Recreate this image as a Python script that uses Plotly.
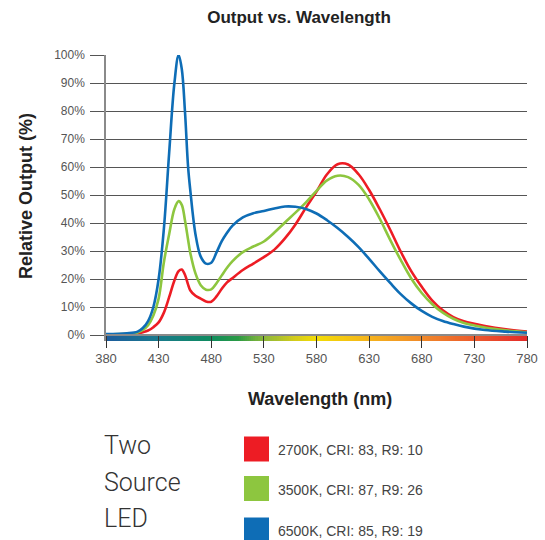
import plotly.graph_objects as go

# ---------------- data ----------------
wavelength = [380, 400, 410, 415, 420, 425, 430, 435, 440, 445, 449, 452, 455, 458, 460,
              465, 470, 475, 480, 485, 490, 495, 500, 510, 520, 530, 540, 550, 560, 570,
              580, 590, 600, 610, 620, 630, 640, 650, 660, 670, 680, 690, 700, 710,
              720, 740, 760, 780]

out_2700K = [0.2, 0.3, 0.6, 1.0, 1.6, 2.8, 4.5, 8.0, 13.5, 19.5, 22.8, 23.4, 21.5, 18.0, 16.0,
             14.0, 13.0, 12.0, 11.9, 13.8, 16.5, 18.8, 20.3, 23.2, 25.5, 27.8, 30.5, 34.5, 39.5, 45.5,
             51.2, 57.4, 61.0, 60.9, 57.4, 51.8, 45.0, 37.6, 29.8, 22.8, 17.2, 12.3, 8.8, 6.4,
             4.9, 3.2, 2.0, 1.2]

out_3500K = [0.2, 0.4, 0.9, 1.8, 3.5, 7.0, 13.0, 26.0, 36.0, 45.0, 47.8, 46.5, 41.0, 34.0, 29.5,
             22.0, 17.8, 16.2, 16.3, 18.5, 21.3, 24.0, 26.3, 29.6, 31.6, 33.4, 36.6, 40.2, 43.7, 47.4,
             51.5, 55.2, 56.9, 56.4, 53.6, 48.4, 41.6, 34.0, 26.8, 20.2, 15.0, 11.0, 8.0, 5.8,
             4.3, 2.7, 1.7, 1.0]

out_6500K = [0.3, 0.6, 1.2, 2.5, 5.0, 10.0, 20.0, 38.0, 65.0, 90.0, 100.0, 95.0, 80.0, 60.0, 52.0,
             36.0, 28.0, 25.5, 25.8, 29.5, 33.5, 36.5, 39.0, 42.0, 43.5, 44.3, 45.2, 45.9, 45.8, 45.0,
             43.4, 41.0, 38.2, 35.0, 31.4, 27.2, 22.8, 18.6, 14.6, 11.3, 8.6, 6.5, 5.0, 3.9,
             3.0, 1.8, 1.2, 0.8]

series_names = ["2700K, CRI: 83, R9: 10", "3500K, CRI: 87, R9: 26", "6500K, CRI: 85, R9: 19"]
series_colors = ["#ED1C24", "#8DC63F", "#0E6DB6"]

x_ticks = [380, 430, 480, 530, 580, 630, 680, 730, 780]
y_ticks = [0, 10, 20, 30, 40, 50, 60, 70, 80, 90, 100]
y_ticklabels = [f"{v}%" for v in y_ticks]

# spectrum strip colours (wavelength, colour)
spectrum_stops = [(380, "#1d5c9e"), (430, "#197a8c"), (480, "#0f8c5e"), (505, "#2a9a45"),
                  (530, "#8cb83a"), (560, "#d4cc1a"), (580, "#f2dc05"), (630, "#f5b31c"),
                  (680, "#f08a2a"), (730, "#ec5a2c"), (780, "#e42a2a")]

# ---------------- geometry ----------------
W, H = 545, 540
ML, MR, MT, MB = 106, 18, 55, 199
PW, PH = W - ML - MR, H - MT - MB
Y_BOTTOM = -2.14


def px_x(px):
    return (px - ML) / PW


def px_y(py):
    return (H - MB - py) / PH


FONT = "Liberation Sans, Arial, sans-serif"

fig = go.Figure()

# spectrum strip under the zero line
edges = list(range(380, 781, 2))
mids = [(a + b) / 2 for a, b in zip(edges[:-1], edges[1:])]
cscale = [[(w - 380) / 400, c] for w, c in spectrum_stops]
fig.add_trace(go.Heatmap(x=edges, y=[Y_BOTTOM, 0], z=[mids], zmin=380, zmax=780,
                         colorscale=cscale, showscale=False, hoverinfo="skip"))

for vals, name, col in zip([out_2700K, out_3500K, out_6500K], series_names, series_colors):
    fig.add_trace(go.Scatter(x=wavelength, y=vals, mode="lines", name=name,
                             line=dict(color=col, width=2.6, shape="spline", smoothing=1.0),
                             showlegend=False))

# ---------------- layout ----------------
fig.update_layout(
    width=W, height=H,
    margin=dict(l=ML, r=MR, t=MT, b=MB, autoexpand=False),
    paper_bgcolor="white", plot_bgcolor="white",
    font=dict(family=FONT, color="#555"),
    title=dict(text="<b>Output vs. Wavelength</b>", x=299 / W, xref="container", xanchor="center",
               y=1 - 17 / H, yref="container", yanchor="middle",
               font=dict(size=17, color="#222", family=FONT)),
    xaxis=dict(range=[380, 780], tickvals=x_ticks, ticktext=[str(t) for t in x_ticks],
               showgrid=False, zeroline=False, anchor="free", position=(0 - Y_BOTTOM) / (100 - Y_BOTTOM),
               automargin=False,
               showline=True, linecolor="#8a8a8a", linewidth=1.5,
               ticks="outside", ticklen=12, tickwidth=1.3, tickcolor="#333",
               tickfont=dict(size=13, color="#555")),
    yaxis=dict(range=[Y_BOTTOM, 100], tickvals=y_ticks, ticktext=y_ticklabels,
               showgrid=True, gridcolor="#555", gridwidth=1, zeroline=False, automargin=False,
               showline=True, linecolor="#8a8a8a", linewidth=1.5,
               ticks="outside", ticklen=14, tickwidth=1, tickcolor="#555",
               ticklabelstandoff=3,
               tickfont=dict(size=12, color="#555")),
)

annotations = [
    dict(text="<b>Relative Output (%)</b>", x=px_x(26), y=px_y(196), xref="paper", yref="paper",
         textangle=-90, showarrow=False, font=dict(size=18, color="#222", family=FONT),
         xanchor="center", yanchor="middle"),
    dict(text="<b>Wavelength (nm)</b>", x=px_x(320), y=px_y(399), xref="paper", yref="paper",
         showarrow=False, font=dict(size=18, color="#222", family=FONT),
         xanchor="center", yanchor="middle"),
]

for word, cy in zip(["Two", "Source", "LED"], [445, 482, 518]):
    annotations.append(dict(text=word, x=px_x(102), y=px_y(cy), xref="paper", yref="paper",
                            showarrow=False, xanchor="left", yanchor="middle",
                            font=dict(size=25, color="#333", family="Roboto, sans-serif", weight=300)))

shapes = []
legend_rows = [449, 488.5, 530]
for name, col, cy in zip(series_names, series_colors, legend_rows):
    shapes.append(dict(type="rect", xref="paper", yref="paper",
                       x0=px_x(244), x1=px_x(269), y0=px_y(cy - 12.5), y1=px_y(cy + 12.5),
                       fillcolor=col, line=dict(width=0)))
    annotations.append(dict(text=name, x=px_x(276), y=px_y(cy + 1), xref="paper", yref="paper",
                            showarrow=False, xanchor="left", yanchor="middle",
                            font=dict(size=14, color="#444", family=FONT)))

fig.update_layout(annotations=annotations, shapes=shapes)

fig.write_html("out.html", config={"displayModeBar": False},
               post_script="document.body.style.margin='0';document.body.style.padding='0';")
